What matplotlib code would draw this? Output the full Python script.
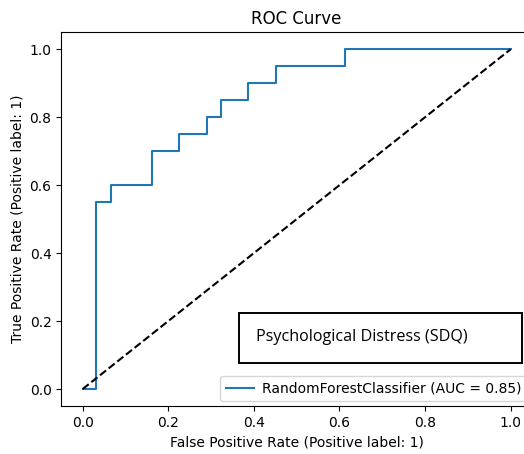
import matplotlib
matplotlib.use("Agg")
import matplotlib.pyplot as plt
from matplotlib.patches import Rectangle

# ROC points (RandomForestClassifier)
fpr = [0.0, 0.032, 0.032, 0.065, 0.065, 0.161, 0.161, 0.226, 0.226, 0.290,
       0.290, 0.323, 0.323, 0.387, 0.387, 0.452, 0.452, 0.613, 0.613, 1.0]
tpr = [0.0, 0.0, 0.55, 0.55, 0.60, 0.60, 0.70, 0.70, 0.75, 0.75,
       0.80, 0.80, 0.85, 0.85, 0.90, 0.90, 0.95, 0.95, 1.0, 1.0]
chance = [0.0, 1.0]
model_name = "RandomForestClassifier"
auc_value = 0.85
box_label = "Psychological Distress (SDQ)"

W, H = 524, 454
fig = plt.figure(figsize=(W / 100, H / 100), dpi=100)
# axes run past the right edge, as in the cropped reference
ax = fig.add_axes([61.3 / W, (H - 406) / H, (532 - 61.3) / W, (406 - 32.3) / H])

ax.plot(fpr, tpr, label=f"{model_name} (AUC = {auc_value:.2f})")
ax.plot(chance, chance, "k--")

ax.set_xlabel("False Positive Rate (Positive label: 1)")
ax.set_ylabel("True Positive Rate (Positive label: 1)")
ax.set_title("ROC Curve")
# legend frame runs just past the right edge, text stays visible
ax.legend(loc="lower right", borderaxespad=0, handletextpad=0.6,
          bbox_to_anchor=(527 / W, (H - 401) / H), bbox_transform=fig.transFigure)

# overlaid annotation box
bx0, bx1, by0, by1 = 239.3, 521.5, 313.3, 362.7
fig.add_artist(Rectangle((bx0 / W, (H - by1) / H), (bx1 - bx0) / W, (by1 - by0) / H,
                         transform=fig.transFigure, facecolor="white",
                         edgecolor="black", linewidth=1.4))
fig.text(256 / W, (H - 337) / H, box_label, family="Open Sans", fontsize=11.6,
         va="center", ha="left", color="black")

fig.savefig("out.png", dpi=100)
